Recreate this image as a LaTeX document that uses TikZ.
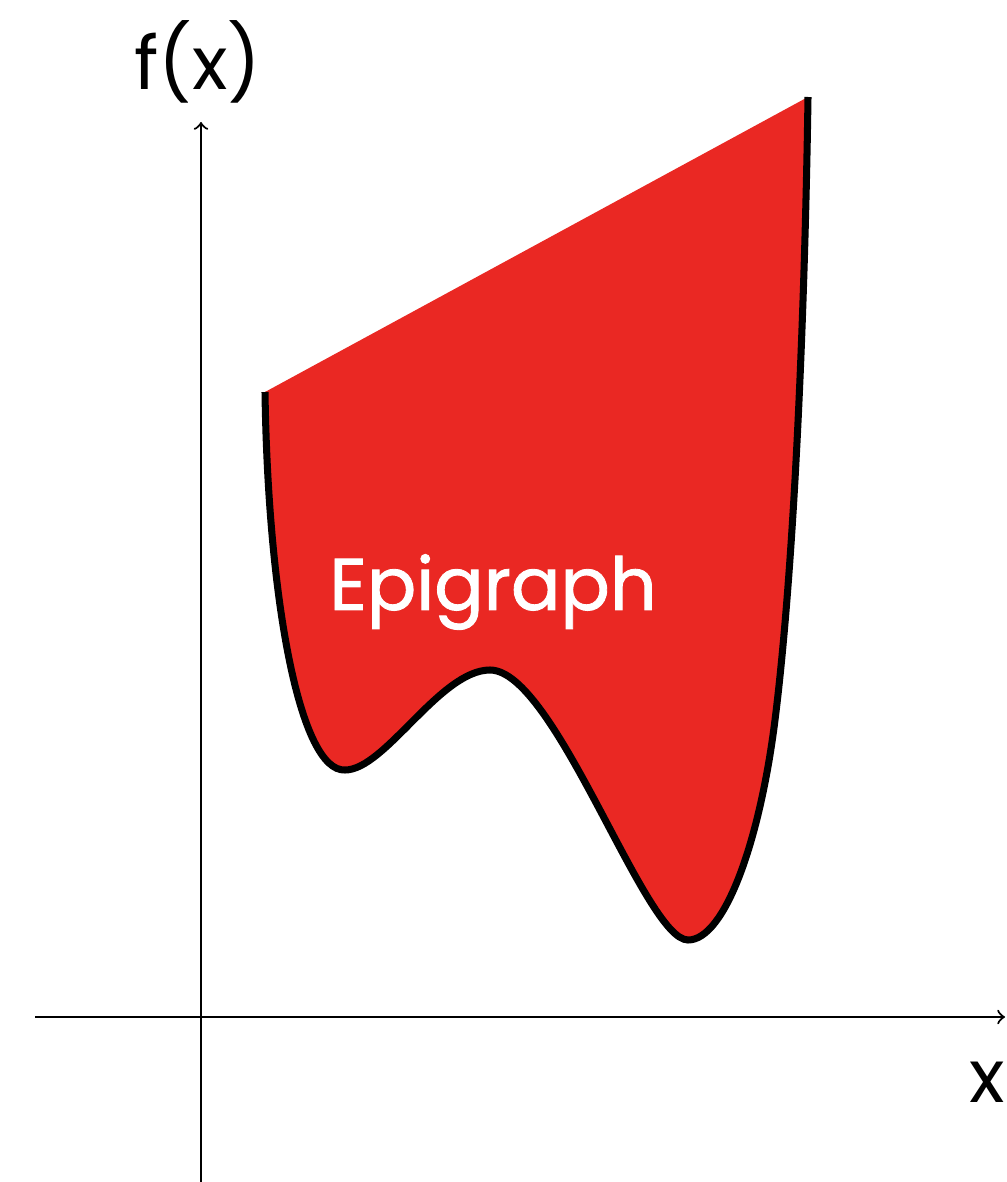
\documentclass[tikz,border=0pt]{standalone}
\usepackage{fontspec}
\setmainfont{Poppins}
\newfontfamily\epifont{Poppins}[FakeBold=1.2]
\definecolor{epired}{RGB}{234,40,35}
\newcommand\epicurve{(265,392) .. controls (268,600) and (300,772) .. (345,770)
  .. controls (385,770) and (440,670) .. (490,670)
  .. controls (555,670) and (645,940) .. (688,940)
  .. controls (725,940) and (760,840) .. (775,720)
  .. controls (795,560) and (805,300) .. (808,97)}
\begin{document}
\begin{tikzpicture}[x=0.01cm,y=-0.01cm]
\useasboundingbox (0,0) rectangle (1006,1182);
\coordinate (ytop) at (201,122);
\coordinate (ybot) at (201,1182);
\coordinate (xleft) at (35,1017);
\coordinate (xright) at (1005,1017);

% the epigraph
\fill[epired] \epicurve -- cycle;
\draw[line width=2pt] \epicurve;
\node[white,font=\epifont\fontsize{20.8}{24}\selectfont] (epi) at (493,592) {Epigraph};

% axes
\draw[->,line width=0.6pt] (ybot) -- (ytop);
\draw[->,line width=0.6pt] (xleft) -- (xright);
\node[font=\fontsize{21}{25}\selectfont] (fx) at (198,62) {f(x)};
\node[font=\fontsize{21}{25}\selectfont,anchor=east,inner sep=0pt] (xl) at (1006,1082) {x};
\end{tikzpicture}
\end{document}
